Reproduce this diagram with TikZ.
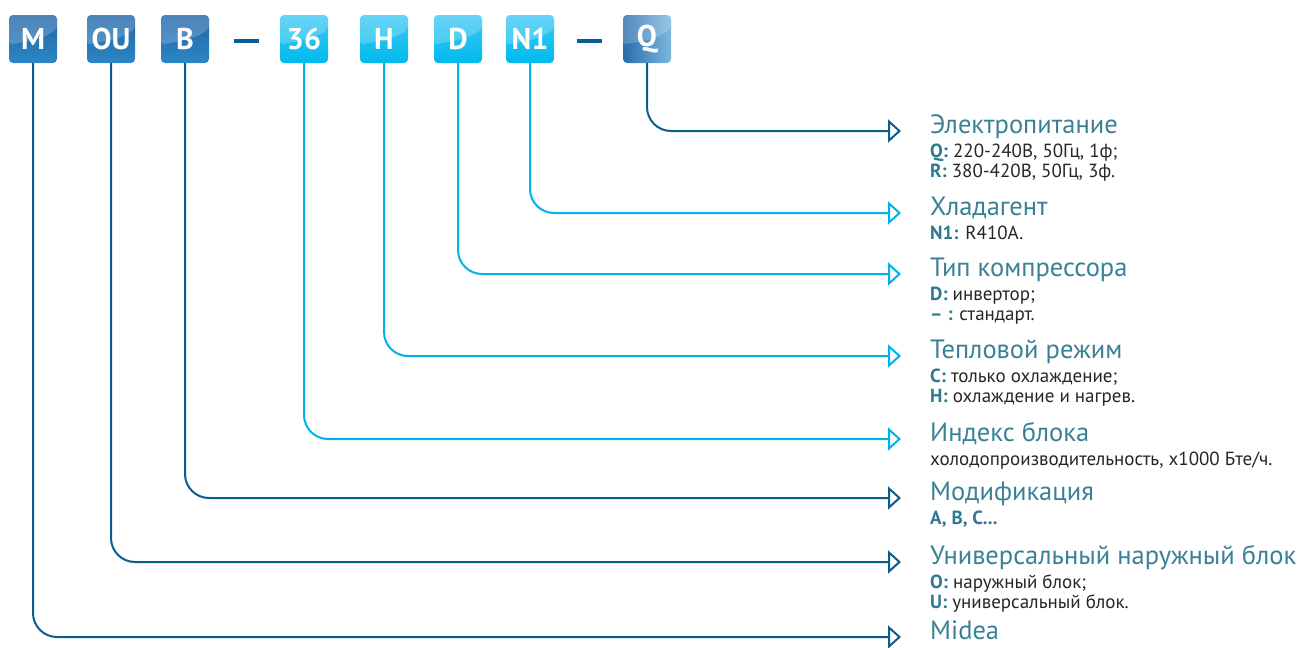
\documentclass[tikz,border=0pt]{standalone}
\usepackage{fontspec}
\setmainfont{PT Sans}
\usetikzlibrary{arrows.meta}

\definecolor{linedark}{HTML}{0B5D91}
\definecolor{linelight}{HTML}{00B2EA}
\definecolor{darktop}{HTML}{2165A8}
\definecolor{darkbot}{HTML}{2C86C4}
\definecolor{lighttop}{HTML}{3FC9F4}
\definecolor{lightbot}{HTML}{00BAEE}
\definecolor{qtop}{HTML}{2A6CAD}
\definecolor{qbot}{HTML}{7DB7DE}
\definecolor{titlecol}{HTML}{3A8096}
\definecolor{keycol}{HTML}{2F7890}

\newcommand{\key}[1]{\textbf{\color{keycol}#1}}

\tikzset{
  codebox/.style={rounded corners=4pt, minimum width=48pt, minimum height=48pt,
    inner sep=0pt, text=white, font=\bfseries\fontsize{30}{30}\selectfont,
    path picture={\fill[white,opacity=0.2] (path picture bounding box.north west)
      -- (path picture bounding box.north east)
      -- ([yshift=-14pt]path picture bounding box.north east)
      .. controls ([xshift=-18pt,yshift=-26pt]path picture bounding box.north east)
      and ([xshift=16pt,yshift=-26pt]path picture bounding box.north west)
      .. ([yshift=-30pt]path picture bounding box.north west) -- cycle;}},
  darkbox/.style={codebox, top color=darktop, bottom color=darkbot},
  lightbox/.style={codebox, top color=lighttop, bottom color=lightbot},
  qbox/.style={codebox, left color=qtop, right color=qbot},
  conn/.style={line width=2pt, rounded corners=24pt,
    -{Triangle[open,length=13pt,width=23pt]}},
  title/.style={anchor=base west, inner sep=0pt, text=titlecol,
    font=\fontsize{26.5}{26.5}\selectfont},
  info/.style={anchor=base west, inner sep=0pt, text=black!85,
    font=\fontsize{19}{20}\selectfont},
}

\begin{document}
\begin{tikzpicture}[x=1pt,y=-1pt]
  \useasboundingbox (0,0) rectangle (1302,648);

  % code boxes
  \node[darkbox]  (m)  at (33,39)  {M};
  \node[darkbox]  (ou) at (111,39) {OU};
  \node[darkbox]  (b)  at (185,39) {B};
  \node[lightbox] (c36) at (304,39) {36};
  \node[lightbox] (h)  at (384,39) {H};
  \node[lightbox] (d)  at (458,39) {D};
  \node[lightbox] (n1) at (530,39) {N1};
  \node[qbox]     (q)  at (647,39) {Q};
  \fill[linedark] (234,39) rectangle (259,43);
  \fill[linedark] (577,39) rectangle (602,43);

  % arrow ends
  \coordinate (tq)  at (901,131);
  \coordinate (tn1) at (901,213);
  \coordinate (td)  at (901,274);
  \coordinate (th)  at (901,356);
  \coordinate (t36) at (901,439);
  \coordinate (tb)  at (901,498);
  \coordinate (tou) at (901,562);
  \coordinate (tm)  at (901,637);

  \draw[conn,linedark]  (q.south)   |- (tq);
  \draw[conn,linelight] (n1.south)  |- (tn1);
  \draw[conn,linelight] (d.south)   |- (td);
  \draw[conn,linelight] (h.south)   |- (th);
  \draw[conn,linelight] (c36.south) |- (t36);
  \draw[conn,linedark]  (b.south)   |- (tb);
  \draw[conn,linedark]  (ou.south)  |- (tou);
  \draw[conn,linedark]  (m.south)   |- (tm);

  % labels
  \node[title] (lq) at (930,133) {Электропитание};
  \node[info] (lq1) at (930,157) {\key{Q:} 220-240В, 50Гц, 1ф;};
  \node[info] (lq2) at (930,177) {\key{R:} 380-420В, 50Гц, 3ф.};
  \node[title] (ln1) at (930,215) {Хладагент};
  \node[info] (ln11) at (930,239) {\key{N1:} R410A.};
  \node[title] (ld) at (930,276) {Тип компрессора};
  \node[info] (ld1) at (930,300) {\key{D:} инвертор;};
  \node[info] (ld2) at (930,320) {\key{– :} стандарт.};
  \node[title] (lh) at (930,358) {Тепловой режим};
  \node[info] (lh1) at (930,382) {\key{C:} только охлаждение;};
  \node[info] (lh2) at (930,402) {\key{H:} охлаждение и нагрев.};
  \node[title] (l36) at (930,441) {Индекс блока};
  \node[info] (l361) at (930,465) {холодопроизводительность, х1000 Бте/ч.};
  \node[title] (lb) at (930,500) {Модификация};
  \node[info] (lb1) at (930,524) {\key{A, B, C...}};
  \node[title] (lou) at (930,564) {Универсальный наружный блок};
  \node[info] (lou1) at (930,588) {\key{O:} наружный блок;};
  \node[info] (lou2) at (930,608) {\key{U:} универсальный блок.};
  \node[title] (lm) at (930,639) {Midea};
\end{tikzpicture}
\end{document}
